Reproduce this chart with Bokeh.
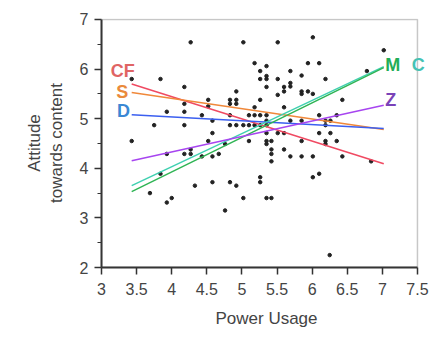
from bokeh.plotting import figure
from bokeh.models import Range1d, FixedTicker, Label, Title, BoxAnnotation
from bokeh.embed import file_html
from bokeh.resources import INLINE

# scatter data (Power Usage, Attitude towards content)
power = [4.27, 3.43, 3.84, 4.18, 4.18, 3.93, 4.18, 4.43, 4.52, 4.52,
         4.83, 4.92, 4.83, 4.92, 4.92, 5.02, 5.51, 5.18, 5.35, 5.26,
         5.69, 5.26, 5.35, 5.35, 5.51, 5.35, 5.69, 5.69, 5.60, 5.60,
         5.51, 5.18, 5.60, 4.83, 5.10, 5.18, 5.26, 5.35, 6.01, 7.02,
         5.94, 6.10, 5.85, 6.19, 6.78, 5.85, 5.85, 5.94, 6.01, 6.43,
         6.10, 6.35, 5.26,
         4.58, 5.35, 5.69, 5.85, 6.19, 6.26,
         3.75, 4.18, 4.83, 4.92, 5.02, 5.10, 5.18, 5.26, 5.35, 6.19,
         3.43, 3.93, 4.18, 4.27, 4.27, 4.52, 4.43, 3.84, 3.69, 3.93,
         4.00, 4.33, 4.58, 4.76, 4.67, 4.58, 5.35, 5.51, 5.60, 5.10,
         5.35, 5.35, 5.42, 5.42, 5.42, 5.42, 5.60, 5.69, 4.58, 4.83,
         4.92, 5.26, 5.26, 5.02, 5.35, 5.42, 4.76, 6.10, 6.26, 5.85,
         6.19, 6.19, 6.35, 5.85, 6.01, 6.43, 6.84, 6.10, 6.01, 6.25]
attitude = [6.54, 5.80, 5.80, 5.64, 5.30, 5.14, 5.14, 5.07, 5.38, 5.25,
            5.38, 5.38, 5.30, 5.30, 5.55, 6.54, 6.54, 6.12, 6.06, 5.96,
            5.96, 5.80, 5.86, 5.80, 5.80, 5.64, 5.72, 5.65, 5.64, 5.55,
            5.48, 5.23, 5.23, 5.07, 5.07, 5.07, 5.07, 5.07, 6.64, 6.38,
            6.12, 6.12, 5.87, 5.80, 5.96, 5.55, 5.50, 5.55, 5.50, 5.38,
            5.07, 5.07, 5.38,
            4.96, 4.96, 4.96, 4.96, 4.96, 4.96,
            4.87, 4.87, 4.87, 4.87, 4.87, 4.87, 4.87, 4.87, 4.87, 4.87,
            4.55, 4.29, 4.29, 4.29, 4.38, 4.55, 4.24, 3.89, 3.50, 3.31,
            3.40, 3.65, 4.71, 4.49, 4.29, 4.24, 4.71, 4.71, 4.71, 4.55,
            4.55, 4.49, 4.55, 4.38, 4.29, 4.14, 4.38, 4.24, 3.72, 3.72,
            3.65, 3.82, 3.72, 3.40, 3.40, 3.40, 3.15, 4.71, 4.71, 4.55,
            4.55, 4.49, 4.55, 4.24, 4.24, 4.24, 4.14, 3.89, 3.82, 2.25]

# regression lines (endpoints)
fit_x = [3.43, 7.02]
fit_cf = [5.70, 4.09]
fit_s = [5.53, 4.78]
fit_d = [5.08, 4.80]
fit_m = [3.53, 6.03]
fit_c = [3.65, 6.05]
fit_z = [4.15, 5.27]

x_ticks = [3, 3.5, 4, 4.5, 5, 5.5, 6, 6.5, 7, 7.5]
y_ticks = [2, 3, 4, 5, 6, 7]
y_minor = [2.5, 3.5, 4.5, 5.5, 6.5]

FONT = "Liberation Sans"

p = figure(width=432, height=337, output_backend="svg", toolbar_location=None,
           x_range=Range1d(3, 7.7), y_range=Range1d(2, 7.02),
           min_border_left=101, min_border_right=1, min_border_top=18,
           min_border_bottom=70)
p.grid.visible = False
p.outline_line_color = None
p.background_fill_color = "white"

# plot frame box (3..7.5 x 2..7)
p.add_layout(BoxAnnotation(left=3, right=7.5, bottom=2, top=7, fill_alpha=0,
                           line_color="#444444", line_width=1.5))

p.xaxis.ticker = FixedTicker(ticks=x_ticks)
p.yaxis.ticker = FixedTicker(ticks=y_ticks, minor_ticks=y_minor)
p.xaxis.bounds = (3, 7.5)
p.yaxis.bounds = (2, 7)
p.xaxis.major_label_overrides = {3: "3", 4: "4", 5: "5", 6: "6", 7: "7"}
for ax in (p.xaxis, p.yaxis):
    ax.axis_line_color = "#333333"
    ax.axis_line_width = 2
    ax.major_tick_line_color = "#333333"
    ax.major_tick_line_width = 1.5
    ax.minor_tick_line_color = "#333333"
    ax.major_tick_in = 0
    ax.major_tick_out = 7
    ax.minor_tick_in = 0
    ax.minor_tick_out = 4
    ax.major_label_text_font = FONT
    ax.major_label_text_font_size = "16px"
    ax.major_label_text_color = "#444444"
    ax.axis_label_text_font = FONT
    ax.axis_label_text_font_size = "17px"
    ax.axis_label_text_font_style = "normal"
    ax.axis_label_text_color = "#444444"
p.xaxis.minor_tick_line_color = None
p.xaxis.major_label_standoff = 8
p.yaxis.major_label_standoff = 6

p.xaxis.axis_label = "Power Usage"
p.xaxis.axis_label_standoff = 11
p.yaxis.axis_label = "towards content"
p.yaxis.axis_label_standoff = 11
p.add_layout(Title(text="Attitude", align="center", text_font=FONT,
                   text_font_size="17px", text_font_style="normal",
                   text_color="#444444", standoff=0, offset=28), "left")

p.scatter(power, attitude, marker="circle", size=3.5, color="#222222")

lines = [(fit_cf, "#f04a62"), (fit_s, "#f0883a"), (fit_d, "#3b5ff0"),
         (fit_c, "#3fd0b0"), (fit_m, "#2fb454"), (fit_z, "#a745f0")]
for ys, col in lines:
    p.line(fit_x, ys, line_color=col, line_width=1.5)

labels = [("CF", 3.13, 5.96, "#e06464"), ("S", 3.21, 5.53, "#ea8a3c"),
          ("D", 3.22, 5.16, "#3a88d4"), ("M", 7.04, 6.09, "#22ad57"),
          ("C", 7.42, 6.09, "#45c2b4"), ("Z", 7.04, 5.37, "#7a42b8")]
for txt, lx, ly, col in labels:
    p.add_layout(Label(x=lx, y=ly, text=txt, text_align="left", text_baseline="middle",
                       text_font=FONT, text_font_size="18px", text_font_style="bold",
                       text_color=col))

open("out.html", "w").write(file_html(p, INLINE))
